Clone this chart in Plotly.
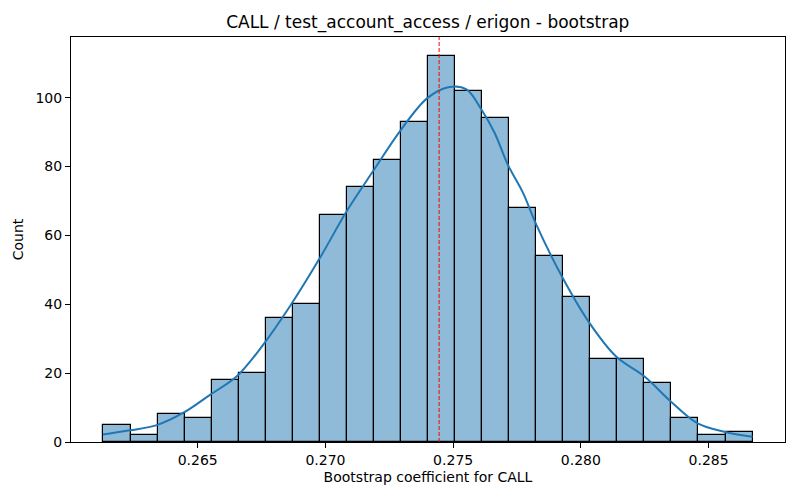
import numpy as np
import plotly.graph_objects as go

# histogram of bootstrap coefficients (24 bins)
bin_lo = 0.26131
bin_hi = 0.28672
counts = [5, 2, 8, 7, 18, 20, 36, 40, 66, 74, 82, 93,
          112, 102, 94, 68, 54, 42, 24, 24, 17, 7, 2, 3]

# kde curve (scaled to counts)
kde_x = [0.26129, 0.26235, 0.26340, 0.26444, 0.26548, 0.26652, 0.26756,
         0.26861, 0.26978, 0.27083, 0.27186, 0.27297, 0.27401, 0.27486,
         0.27552, 0.27610, 0.27662, 0.27714, 0.27773, 0.27825, 0.27929,
         0.28034, 0.28138, 0.28249, 0.28353, 0.28457, 0.28561, 0.28672]
kde_y = [2.2, 3.4, 4.9, 8.5, 13.7, 19.0, 28.2,
         39.4, 53.4, 67.0, 78.6, 90.8, 100.0, 103.1,
         102.4, 96.6, 89.8, 80.5, 72.4, 63.2, 47.6,
         34.5, 24.8, 19.0, 11.7, 5.4, 3.0, 1.5]

point_estimate = 0.27445

edges = np.linspace(bin_lo, bin_hi, len(counts) + 1)
centers = (edges[:-1] + edges[1:]) / 2
width = edges[1] - edges[0]

fig = go.Figure()

fig.add_trace(go.Bar(
    x=centers,
    y=counts,
    width=width,
    marker=dict(color='#8fbbd9', line=dict(color='black', width=1.2)),
    hoverinfo='x+y',
))

fig.add_trace(go.Scatter(
    x=kde_x,
    y=kde_y,
    mode='lines',
    line=dict(color='#1f77b4', width=2, shape='spline'),
))

fig.add_vline(x=point_estimate, line=dict(color='red', width=1, dash='4px,2px'))

span = bin_hi - bin_lo
axis_style = dict(
    ticks='outside', ticklen=5, tickcolor='black',
    tickfont=dict(size=14),
    showline=True, mirror=True, linecolor='black', linewidth=1,
    showgrid=False, zeroline=False, automargin=False,
)
# the page body adds an 8px offset, so the figure is 8px smaller
fig.update_layout(
    width=792,
    height=492,
    margin=dict(l=63, r=15, t=29, b=58),
    paper_bgcolor='white',
    plot_bgcolor='white',
    showlegend=False,
    bargap=0,
    font=dict(family='DejaVu Sans', size=14, color='black'),
    title=dict(
        text='CALL / test_account_access / erigon - bootstrap',
        x=0.530, xanchor='center',
        y=0.972, yanchor='middle',
        font=dict(size=17),
    ),
    xaxis=dict(
        title=dict(text='Bootstrap coefficient for CALL', standoff=5, font=dict(size=14)),
        range=[bin_lo - 0.05 * span, bin_hi + 0.05 * span],
        tickvals=[0.265, 0.270, 0.275, 0.280, 0.285],
        tickformat='.3f',
        **axis_style,
    ),
    yaxis=dict(
        title=dict(text='Count', standoff=8, font=dict(size=14)),
        range=[0, max(counts) * 1.05],
        tickvals=[0, 20, 40, 60, 80, 100],
        **axis_style,
    ),
)

fig.write_html("out.html")
